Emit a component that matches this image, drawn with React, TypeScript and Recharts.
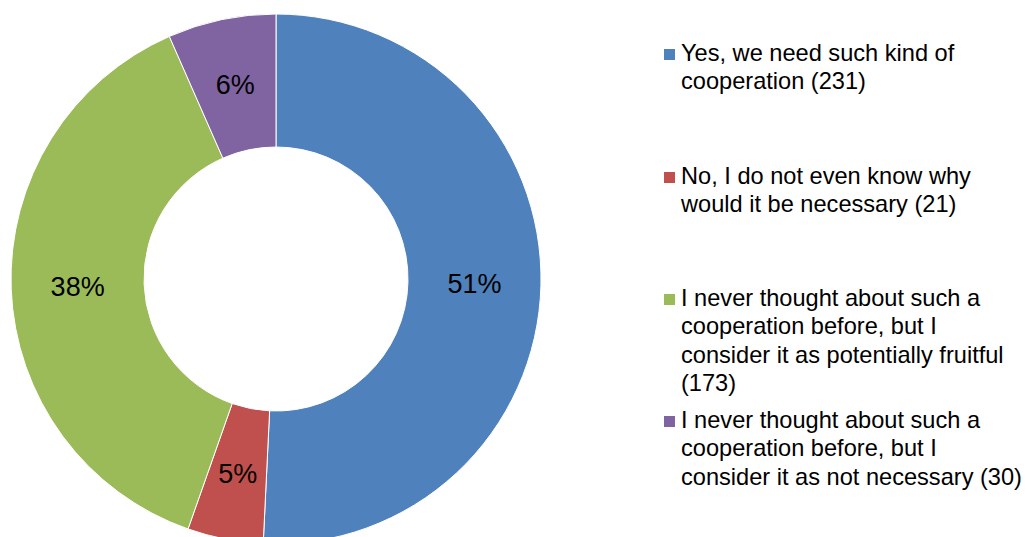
import React from 'react';
import { PieChart, Pie, Cell, Legend } from 'recharts';

const categories = [
  'Yes, we need such kind of cooperation (231)',
  'No, I do not even know why would it be necessary (21)',
  'I never thought about such a cooperation before, but I consider it as potentially fruitful (173)',
  'I never thought about such a cooperation before, but I consider it as not necessary (30)',
];
const legendLines = [
  ['Yes, we need such kind of', 'cooperation (231)'],
  ['No, I do not even know why', 'would it be necessary (21)'],
  ['I never thought about such a', 'cooperation before, but I', 'consider it as potentially fruitful', '(173)'],
  ['I never thought about such a', 'cooperation before, but I', 'consider it as not necessary (30)'],
];
const values = [231, 21, 173, 30];
const percentLabels = ['51%', '5%', '38%', '6%'];
const colors = ['#4F81BD', '#C0504D', '#9BBB59', '#8064A2'];
const legendTops = [61, 184, 306, 428];

const data = categories.map((name, i) => ({ name, value: values[i] }));

const FONT = 'Liberation Sans, Arial, sans-serif';
const RAD = Math.PI / 180;

const renderLabel = (props: any) => {
  const { cx, cy, midAngle, innerRadius, outerRadius, index } = props;
  const r = (innerRadius + outerRadius) / 2;
  const x = cx + r * Math.cos(-midAngle * RAD);
  const y = cy + r * Math.sin(-midAngle * RAD);
  return (
    <text x={x} y={y} textAnchor="middle" dominantBaseline="central" fontFamily={FONT} fontSize={27} fill="#000">
      {percentLabels[index]}
    </text>
  );
};

const renderLegend = () => (
  <svg width={1026} height={537} style={{ position: 'absolute', left: 0, top: 0 }}>
    {legendLines.map((lines, i) => (
      <g key={i}>
        <rect x={664} y={legendTops[i] - 12} width={11} height={11} fill={colors[i]} />
        {lines.map((ln, j) => (
          <text key={j} x={681} y={legendTops[i] + j * 28.3} fontFamily={FONT} fontSize={23.6} fill="#000">
            {ln}
          </text>
        ))}
      </g>
    ))}
  </svg>
);

export default function App() {
  return (
    <div style={{ position: 'absolute', left: 0, top: 0, width: 1026, height: 537, background: '#fff' }}>
      <PieChart width={1026} height={537} margin={{ top: 0, right: 0, bottom: 0, left: 0 }}>
        <Pie
          data={data}
          dataKey="value"
          nameKey="name"
          cx={276}
          cy={279}
          innerRadius={132}
          outerRadius={265}
          startAngle={90}
          endAngle={-270}
          stroke="#ffffff"
          strokeWidth={1}
          label={renderLabel}
          labelLine={false}
          isAnimationActive={false}
        >
          {data.map((d, i) => (
            <Cell key={i} fill={colors[i]} />
          ))}
        </Pie>
        <Legend
          content={renderLegend}
          wrapperStyle={{ position: 'absolute', left: 0, top: 0, width: 1026, height: 537, pointerEvents: 'none' }}
        />
      </PieChart>
    </div>
  );
}
